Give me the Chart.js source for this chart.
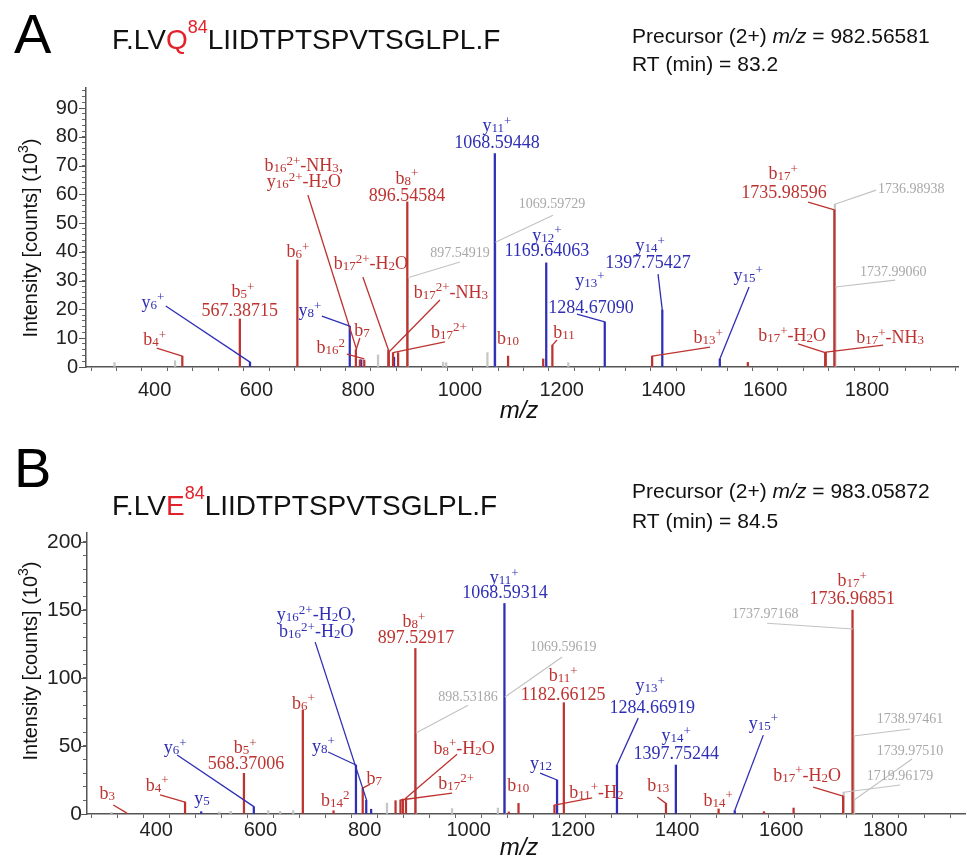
<!DOCTYPE html>
<html><head><meta charset="utf-8">
<script src="https://cdn.jsdelivr.net/npm/chart.js@4/dist/chart.umd.min.js"></script>
<style>
html,body{margin:0;padding:0;background:#fff;width:967px;height:860px;overflow:hidden}
canvas{position:absolute;left:0}
#cA{top:0}#cB{top:430px}
</style></head><body>
<canvas id="cA" width="967" height="430"></canvas>
<canvas id="cB" width="967" height="430"></canvas>
<script>
// ---------- Panel A data (m/z, intensity x10^3) ----------
const aRedMz  = [454.30,567.39,680.47,795.50,803.40,811.95,859.49,859.98,868.50,878.53,896.55,1094.65,1163.67,1181.68,1377.80,1565.88,1717.97,1718.96,1735.99];
const aRedInt = [3.8,16.7,37.2,6.0,2.5,2.4,5.9,5.5,5.0,5.0,57.4,3.8,2.8,7.6,3.8,1.6,5.0,5.2,54.6];
const aBlueMz  = [587.34,783.46,806.0,870.49,1068.59,1169.64,1284.67,1397.75,1510.84];
const aBlueInt = [1.7,14.2,2.5,3.4,74.2,36.2,15.7,19.8,2.8];
const aGreyMz  = [321,440,839,897.55,967,973,1054,1069.60,1213,1736.99,1737.99];
const aGreyInt = [1.5,2.2,4.2,31.0,1.7,1.5,5.0,43.4,1.5,56.6,27.8];
const aXTicks = [300,350,400,450,500,550,600,650,700,750,800,850,900,950,1000,1050,1100,1150,1200,1250,1300,1350,1400,1450,1500,1550,1600,1650,1700,1750,1800,1850,1900,1950];
const aYTicks = [0,2,4,6,8,10,12,14,16,18,20,22,24,26,28,30,32,34,36,38,40,42,44,46,48,50,52,54,56,58,60,62,64,66,68,70,72,74,76,78,80,82,84,86,88,90,92,94,96];

// ---------- Panel B data ----------
const bRedMz  = [342.20,455.29,568.37,681.45,740.42,796.48,859.50,868.99,873.50,879.52,897.53,1077.0,1095.63,1164.65,1182.66,1378.78,1479.83,1566.86,1623.88,1718.95,1736.97];
const bRedInt = [1.0,8.8,29.9,76.4,2.4,19.0,9.8,10.3,11.0,11.7,121.7,1.5,7.8,6.6,81.8,7.8,3.7,1.7,4.4,13.2,149.9];
const bBlueMz  = [486.29,587.34,783.46,803.2,812.6,1068.59,1169.64,1284.67,1397.75,1510.84];
const bBlueInt = [1.7,5.4,36.0,10.0,3.5,154.8,25.0,36.0,36.0,2.5];
const bGreyMz  = [314,521,543,615,638,663,843,898.53,968,1056,1069.60,1719.96,1737.97,1738.97,1739.98];
const bGreyInt = [1.2,1.5,2.0,2.5,2.0,2.5,8.0,59.5,4.0,4.4,86.0,16.0,136.0,57.3,10.3];
const bXTicks = aXTicks;
const bYTicks = [0,10,20,30,40,50,60,70,80,90,100,110,120,130,140,150,160,170,180,190,200];

// ---------- peak annotations: [text, colour key, m/z, intensity, size] ----------
const aLabels = [
 ['b_{4}^{+}','r',400.2,9.7,18],['y_{6}^{+}','b',396.3,22.6,18],
 ['b_{5}^{+}','r',573.2,26.4,18],['567.38715','r',567.3,19.8,18],
 ['b_{6}^{+}','r',681.4,40.3,18],
 ['b_{16}^{2+}-NH_{3},','r',693.2,70.2,18],['y_{16}^{2+}-H_{2}O','r',693.2,64.6,18],
 ['y_{8}^{+}','b',705,19.8,18],['b_{7}','r',807.3,12.9,18],['b_{16}^{2}','r',746.3,6.9,18],
 ['b_{17}^{2+}-H_{2}O','r',825,36.1,18],['b_{17}^{2+}-NH_{3}','r',982.3,26.1,18],['b_{17}^{2+}','r',978.4,12.2,18],
 ['b_{8}^{+}','r',895.8,65.7,18],['896.54584','r',895.8,59.8,18],['897.54919','g',1000,40,14],
 ['y_{11}^{+}','b',1072.8,84.1,18],['1068.59448','b',1072.8,78.2,18],['1069.59729','g',1181,57,14],
 ['y_{12}^{+}','b',1171,45.9,18],['1169.64063','b',1171,40.7,18],
 ['y_{13}^{+}','b',1255.7,30.2,18],['1284.67090','b',1257.6,20.8,18],
 ['b_{10}','r',1094.4,10.1,18],['b_{11}','r',1204.5,12.2,18],
 ['y_{14}^{+}','b',1373.7,42.4,18],['1397.75427','b',1369.7,36.5,18],
 ['y_{15}^{+}','b',1566.4,32,18],['b_{13}^{+}','r',1487.7,10.4,18],
 ['b_{17}^{+}-H_{2}O','r',1652.9,11.1,18],['b_{17}^{+}-NH_{3}','r',1845.6,10.4,18],
 ['b_{17}^{+}','r',1635.2,67.4,18],['1735.98596','r',1637.1,60.8,18],
 ['1736.98938','g',1886.9,62.2,14],['1737.99060','g',1851.5,33.4,14]
];
const aLeaders = [
 ['r',[[404,6.6],[454.3,3.8]]],['b',[[421.8,21.2],[587.34,1.7]]],
 ['r',[[701.1,59.8],[797,6]]],['b',[[728.6,17.7],[783.46,14.2]]],
 ['r',[[803.3,10.1],[796,6]]],['r',[[777.8,4.5],[811.95,2.8]]],
 ['r',[[809.2,31.3],[859.5,5.9]]],['r',[[960.7,23.3],[862,5.5]]],['r',[[970.5,8.7],[868.5,5]]],
 ['g',[[1000,36.5],[897.55,31]]],['g',[[1182.9,52.8],[1069.6,43.4]]],
 ['b',[[1230,18.4],[1284.67,15.7]]],['r',[[1190.8,9.4],[1181.68,7.6]]],
 ['b',[[1389.4,32.3],[1397.75,19.8]]],['b',[[1568.3,27.8],[1510.84,2.8]]],
 ['r',[[1491.6,6.9],[1377.8,3.8]]],['r',[[1664.7,8],[1717.97,5]]],['r',[[1831.9,7.6],[1719.5,5.2]]],
 ['r',[[1684.4,57.3],[1735.99,54.6]]],['g',[[1818,61.5],[1736.99,56.6]]],['g',[[1855.5,30.2],[1737.99,27.8]]]
];
const bLabels = [
 ['b_{3}','r',305.7,15.4,18],['b_{4}^{+}','r',401.7,21.3,18],['y_{5}','b',488,11.8,18],
 ['y_{6}^{+}','b',436.3,49.2,18],['b_{5}^{+}','r',570.8,49.2,18],['568.37006','r',572.5,37.5,18],
 ['b_{6}^{+}','r',682.4,81.6,18],
 ['y_{16}^{2+}-H_{2}O,','b',707.2,147,18],['b_{16}^{2+}-H_{2}O','b',707.2,134.5,18],
 ['y_{8}^{+}','b',720.9,50,18],['b_{7}','r',818.6,26.5,18],['b_{14}^{2}','r',743.6,10.3,18],
 ['b_{8}^{+}','r',895,141.8,18],['897.52917','r',898.9,130,18],['898.53186','g',998.8,86.7,14],
 ['b_{8}^{+}-H_{2}O','r',991.2,48.5,18],['b_{17}^{2+}','r',975.8,22.8,18],
 ['y_{11}^{+}','b',1068,174.1,18],['1068.59314','b',1069.9,163.1,18],['1069.59619','g',1181.3,123.4,14],
 ['b_{10}','r',1094.9,21.3,18],['y_{12}','b',1139,37.5,18],
 ['b_{11}^{+}','r',1181.3,102.1,18],['1182.66125','r',1181.3,88.2,18],['b_{11}^{+}-H_{2}','r',1245,16.2,18],
 ['y_{13}^{+}','b',1348.6,94.8,18],['1284.66919','b',1352.4,78.6,18],['b_{13}','r',1363.9,21.3,18],
 ['y_{14}^{+}','b',1398.5,58,18],['1397.75244','b',1398.5,44.8,18],['b_{14}^{+}','r',1479.2,10.3,18],
 ['y_{15}^{+}','b',1565.7,66.9,18],['b_{17}^{+}-H_{2}O','r',1649.8,28.7,18],['1719.96179','g',1828.3,28.7,14],
 ['b_{17}^{+}','r',1736.4,171.9,18],['1736.96851','r',1736.4,158.7,18],['1737.97168','g',1569.3,147.7,14],
 ['1738.97461','g',1847.5,70.5,14],['1739.97510','g',1847.5,47,14]
];
const bLeaders = [
 ['r',[[317.4,6.6],[342.2,1]]],['r',[[407.4,14],[455.29,8.8]]],['b',[[440.1,43.4],[587.34,5.4]]],
 ['b',[[705.2,126.4],[804,10]]],['b',[[730,45.6],[783.46,36]]],['r',[[810.7,22],[796.48,19]]],
 ['g',[[998.8,80],[898.53,59.5]]],['r',[[977.7,44],[879.52,11.7]]],['r',[[968.1,15.4],[868.99,10.3]]],
 ['g',[[1179.4,115.4],[1069.6,86]]],['b',[[1137.1,30.1],[1169.64,25]]],['r',[[1237,11.8],[1164.65,6.6]]],
 ['b',[[1325.5,70.5],[1284.67,36]]],['r',[[1362,12.5],[1378.78,7.8]]],['b',[[1565.7,58],[1510.84,2.5]]],
 ['r',[[1661.4,19.8],[1718.95,13.2]]],['g',[[1828.3,21.3],[1719.96,16]]],['g',[[1573.1,140.3],[1737.97,136]]],
 ['g',[[1847.5,62.5],[1738.97,57.3]]],['g',[[1851.3,40.4],[1739.98,10.3]]]
];

// ---------- styling ----------
const RED='#bd3330', BLUE='#2f2fb6', GREYT='#a8a8a8', GREYL='#c2c2c2', GREYBAR='#c6c6c6', TITLERED='#e3212b';
const SANS='"Liberation Sans", Arial, sans-serif', SERIF='"Liberation Serif", "Times New Roman", serif';
const labCol={r:RED,b:BLUE,g:GREYT}, leadCol={r:RED,b:BLUE,g:GREYL};
Chart.defaults.font.family=SANS;

function parseRich(s){
  const out=[];let buf='',i=0;
  while(i<s.length){
    const c=s[i];
    if((c==='_'||c==='^')&&s[i+1]==='{'){
      if(buf){out.push({t:buf});buf='';}
      const j=s.indexOf('}',i);
      out.push(c==='_'?{t:s.slice(i+2,j),sub:true}:{t:s.slice(i+2,j),sup:true});
      i=j+1;
    } else {buf+=c;i++;}
  }
  if(buf) out.push({t:buf});
  return out;
}
function drawSegs(ctx,segs,x,y,size,fam,col,align){
  const f=g=>{const fs=g.fs||((g.sub||g.sup)?Math.round(size*0.7):size);return (g.it?'italic ':'')+fs+'px '+fam;};
  let w=0;for(const g of segs){ctx.font=f(g);g._w=ctx.measureText(g.t).width;w+=g._w;}
  let cx=align==='center'?x-w/2:align==='right'?x-w:x;
  ctx.textAlign='left';ctx.textBaseline='alphabetic';
  for(const g of segs){
    ctx.font=f(g);ctx.fillStyle=g.c||col;
    const dy=g.dy!==undefined?g.dy:(g.sub?size*0.06:g.sup?-size*0.36:0);
    ctx.fillText(g.t,cx,y+dy);cx+=g._w;
  }
}

function makeAnnot(cfg){
  return {id:'annot'+cfg.id, afterDraw(chart){
    const ctx=chart.ctx,xs=chart.scales.x,ys=chart.scales.y;
    const P=p=>[xs.getPixelForValue(p[0]),ys.getPixelForValue(p[1])];
    ctx.save();
    // longer major ticks on y axis
    ctx.strokeStyle='#555';ctx.lineWidth=1;
    ys.ticks.forEach(t=>{if(t.value%cfg.yMajor===0){const py=Math.round(ys.getPixelForValue(t.value))+0.5;ctx.beginPath();ctx.moveTo(xs.left-7,py);ctx.lineTo(xs.left,py);ctx.stroke();}});
    // leader lines
    cfg.leaders.forEach(([c,pts])=>{
      ctx.strokeStyle=leadCol[c];ctx.lineWidth=c==='g'?1.1:1.3;ctx.beginPath();
      pts.forEach((p,i)=>{const [x,y]=P(p);i?ctx.lineTo(x,y):ctx.moveTo(x,y);});ctx.stroke();
    });
    // peak labels
    cfg.labels.forEach(([t,c,mz,it,fs])=>{const [x,y]=P([mz,it]);drawSegs(ctx,parseRich(t),x,y+fs*0.33,fs,SERIF,labCol[c],'center');});
    // panel letter, sequence, precursor, RT
    ctx.fillStyle='#000';ctx.font='56px '+SANS;ctx.textAlign='left';ctx.textBaseline='alphabetic';
    ctx.fillText(cfg.letter,cfg.letterX,cfg.letterY);
    drawSegs(ctx,[{t:'F.LV'},{t:cfg.res,c:TITLERED},{t:'84',c:TITLERED,fs:18,dy:-16},{t:'LIIDTPTSPVTSGLPL.F'}],112,cfg.seqY,28,SANS,'#111','left');
    drawSegs(ctx,[{t:'Precursor (2+) '},{t:'m/z',it:true},{t:' = '+cfg.prec}],632,cfg.precY,21,SANS,'#111','left');
    drawSegs(ctx,[{t:'RT (min) = '+cfg.rt}],632,cfg.rtY,21,SANS,'#111','left');
    // axis titles
    drawSegs(ctx,[{t:'m/z',it:true}],519,cfg.xtY,24,SANS,'#111','center');
    ctx.translate(cfg.ytX,cfg.ytY);ctx.rotate(-Math.PI/2);
    drawSegs(ctx,[{t:'Intensity [counts] (10'},{t:'3',sup:true,fs:14,dy:-9},{t:')'}],0,0,20,SANS,'#111','center');
    ctx.restore();
  }};
}

function makeChart(cfg){
  const ds=(mz,it,col,order)=>({data:mz.map((m,i)=>({x:m,y:it[i]})),backgroundColor:col,borderWidth:0,barThickness:1.6,grouped:false,order});
  const canvasH=430, canvasW=967;
  return new Chart(document.getElementById(cfg.id),{
    type:'bar',
    data:{datasets:[ds(cfg.redMz,cfg.redInt,RED,0),ds(cfg.blueMz,cfg.blueInt,BLUE,1),ds(cfg.greyMz,cfg.greyInt,GREYBAR,2)]},
    options:{
      responsive:false,animation:false,events:[],
      layout:{padding:{left:0,top:cfg.top,right:canvasW-cfg.right,bottom:canvasH-cfg.bottom-cfg.xH}},
      plugins:{legend:{display:false},tooltip:{enabled:false}},
      scales:{
        x:{type:'linear',min:cfg.xMin,max:cfg.xMax,offset:false,
          afterFit(s){s.height=cfg.xH;},
          afterBuildTicks(s){s.ticks=cfg.xTicks.map(v=>({value:v}));},
          ticks:{autoSkip:false,maxRotation:0,padding:cfg.xPad,color:'#222',font:{size:20,family:SANS},callback:v=>v%200===0?String(v):''},
          grid:{display:true,drawOnChartArea:false,drawTicks:true,tickLength:4,color:'#666',lineWidth:1},
          border:{display:true,color:'#555',width:1.5}},
        y:{type:'linear',min:0,max:cfg.yMax,
          afterFit(s){s.width=cfg.left;},
          afterBuildTicks(s){s.ticks=cfg.yTicks.map(v=>({value:v}));},
          ticks:{autoSkip:false,padding:cfg.yPad,color:'#222',font:{size:cfg.yFont,family:SANS},callback:v=>v%cfg.yMajor===0?String(v):''},
          grid:{display:true,drawOnChartArea:false,drawTicks:true,tickLength:4,color:'#666',lineWidth:1},
          border:{display:true,color:'#555',width:1.5}}
      }
    },
    plugins:[makeAnnot(cfg)]
  });
}

makeChart({id:'cA',redMz:aRedMz,redInt:aRedInt,blueMz:aBlueMz,blueInt:aBlueInt,greyMz:aGreyMz,greyInt:aGreyInt,
  xTicks:aXTicks,yTicks:aYTicks,labels:aLabels,leaders:aLeaders,
  xMin:265,xMax:1979,yMax:97,yMajor:10,left:86,right:958,top:88,bottom:367,xH:55,xPad:7,yPad:4,yFont:20,
  letter:'A',letterX:14,letterY:53,res:'Q',seqY:49,prec:'982.56581',rt:'83.2',precY:43,rtY:71,xtY:418,ytX:37,ytY:238});
makeChart({id:'cB',redMz:bRedMz,redInt:bRedInt,blueMz:bBlueMz,blueInt:bBlueInt,greyMz:bGreyMz,greyInt:bGreyInt,
  xTicks:bXTicks,yTicks:bYTicks,labels:bLabels,leaders:bLeaders,
  xMin:267,xMax:1953,yMax:206.6,yMajor:50,left:87,right:965,top:103,bottom:384,xH:44,xPad:0,yPad:1,yFont:21,
  letter:'B',letterX:14,letterY:57,res:'E',seqY:85,prec:'983.05872',rt:'84.5',precY:68,rtY:98,xtY:425,ytX:37,ytY:231});
</script></body></html>
